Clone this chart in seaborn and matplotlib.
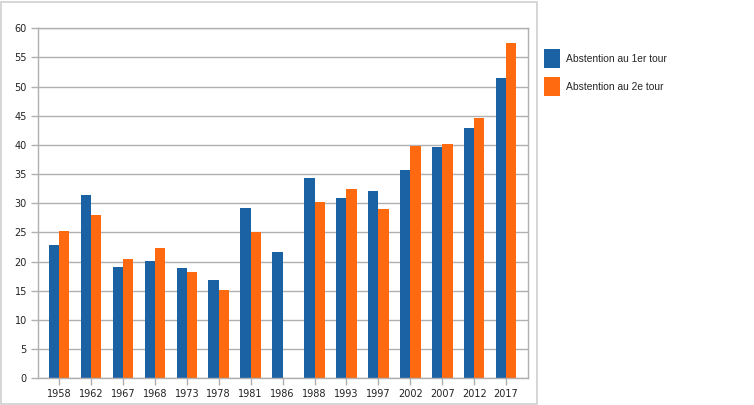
import matplotlib
matplotlib.use("Agg")
import matplotlib.pyplot as plt
import seaborn as sns
import pandas as pd
import numpy as np
from matplotlib.patches import Rectangle

years = ["1958", "1962", "1967", "1968", "1973", "1978", "1981", "1986",
         "1988", "1993", "1997", "2002", "2007", "2012", "2017"]
tour1 = [22.9, 31.4, 19.0, 20.1, 18.9, 16.9, 29.2, 21.6,
         34.4, 30.9, 32.1, 35.7, 39.7, 42.9, 51.4]
tour2 = [25.3, 28.0, 20.4, 22.3, 18.3, 15.2, 25.1, np.nan,
         30.3, 32.5, 29.0, 39.8, 40.1, 44.7, 57.5]
series = ["Abstention au 1er tour", "Abstention au 2e tour"]
colors = ["#1b62a5", "#ff690f"]

df = pd.DataFrame({
    "annee": years * 2,
    "valeur": tour1 + tour2,
    "serie": [series[0]] * len(years) + [series[1]] * len(years),
}).dropna()

sns.set_style("white")
plt.rcParams["font.family"] = ["DejaVu Sans"]

fig = plt.figure(figsize=(7.54, 4.05), dpi=100)
ax = fig.add_axes([38 / 754, 1 - 378.3 / 405, (527.5 - 38) / 754, 350 / 405])

sns.barplot(data=df, x="annee", y="valeur", hue="serie", order=years,
            hue_order=series, palette=colors, width=0.645, linewidth=0,
            saturation=1, ax=ax)

grid_col = "#b0b0b0"
ax.set_ylim(0, 60)
ax.set_xlim(-0.66, len(years) - 1 + 0.67)
ax.set_yticks(range(0, 61, 5))
ax.yaxis.grid(True, color=grid_col, linewidth=1)
ax.set_axisbelow(True)
for s in ax.spines.values():
    s.set_color(grid_col)
    s.set_linewidth(1)
ax.tick_params(axis="both", length=5, width=1, color=grid_col,
               labelsize=7, labelcolor="#222222", pad=3)
ax.tick_params(axis="y", left=True)
ax.tick_params(axis="x", bottom=True)
ax.set_xlabel("")
ax.set_ylabel("")

handles, labels = ax.get_legend_handles_labels()
ax.get_legend().remove()
fig.legend(handles, labels, loc="upper left",
           bbox_to_anchor=(540 / 754, 1 - 45 / 405), frameon=False,
           handlelength=1.55, handleheight=2.5, handletextpad=0.6,
           labelspacing=0.86, borderaxespad=0,
           prop={"family": "Liberation Sans", "size": 7.4})

# outer chart frame
fig.patches.append(Rectangle((0.5 / 754, 1.5 / 405), 536.5 / 754, 402 / 405,
                             transform=fig.transFigure, fill=False,
                             edgecolor="#cfcfcf", linewidth=1.2))

fig.savefig("out.png", dpi=100)
